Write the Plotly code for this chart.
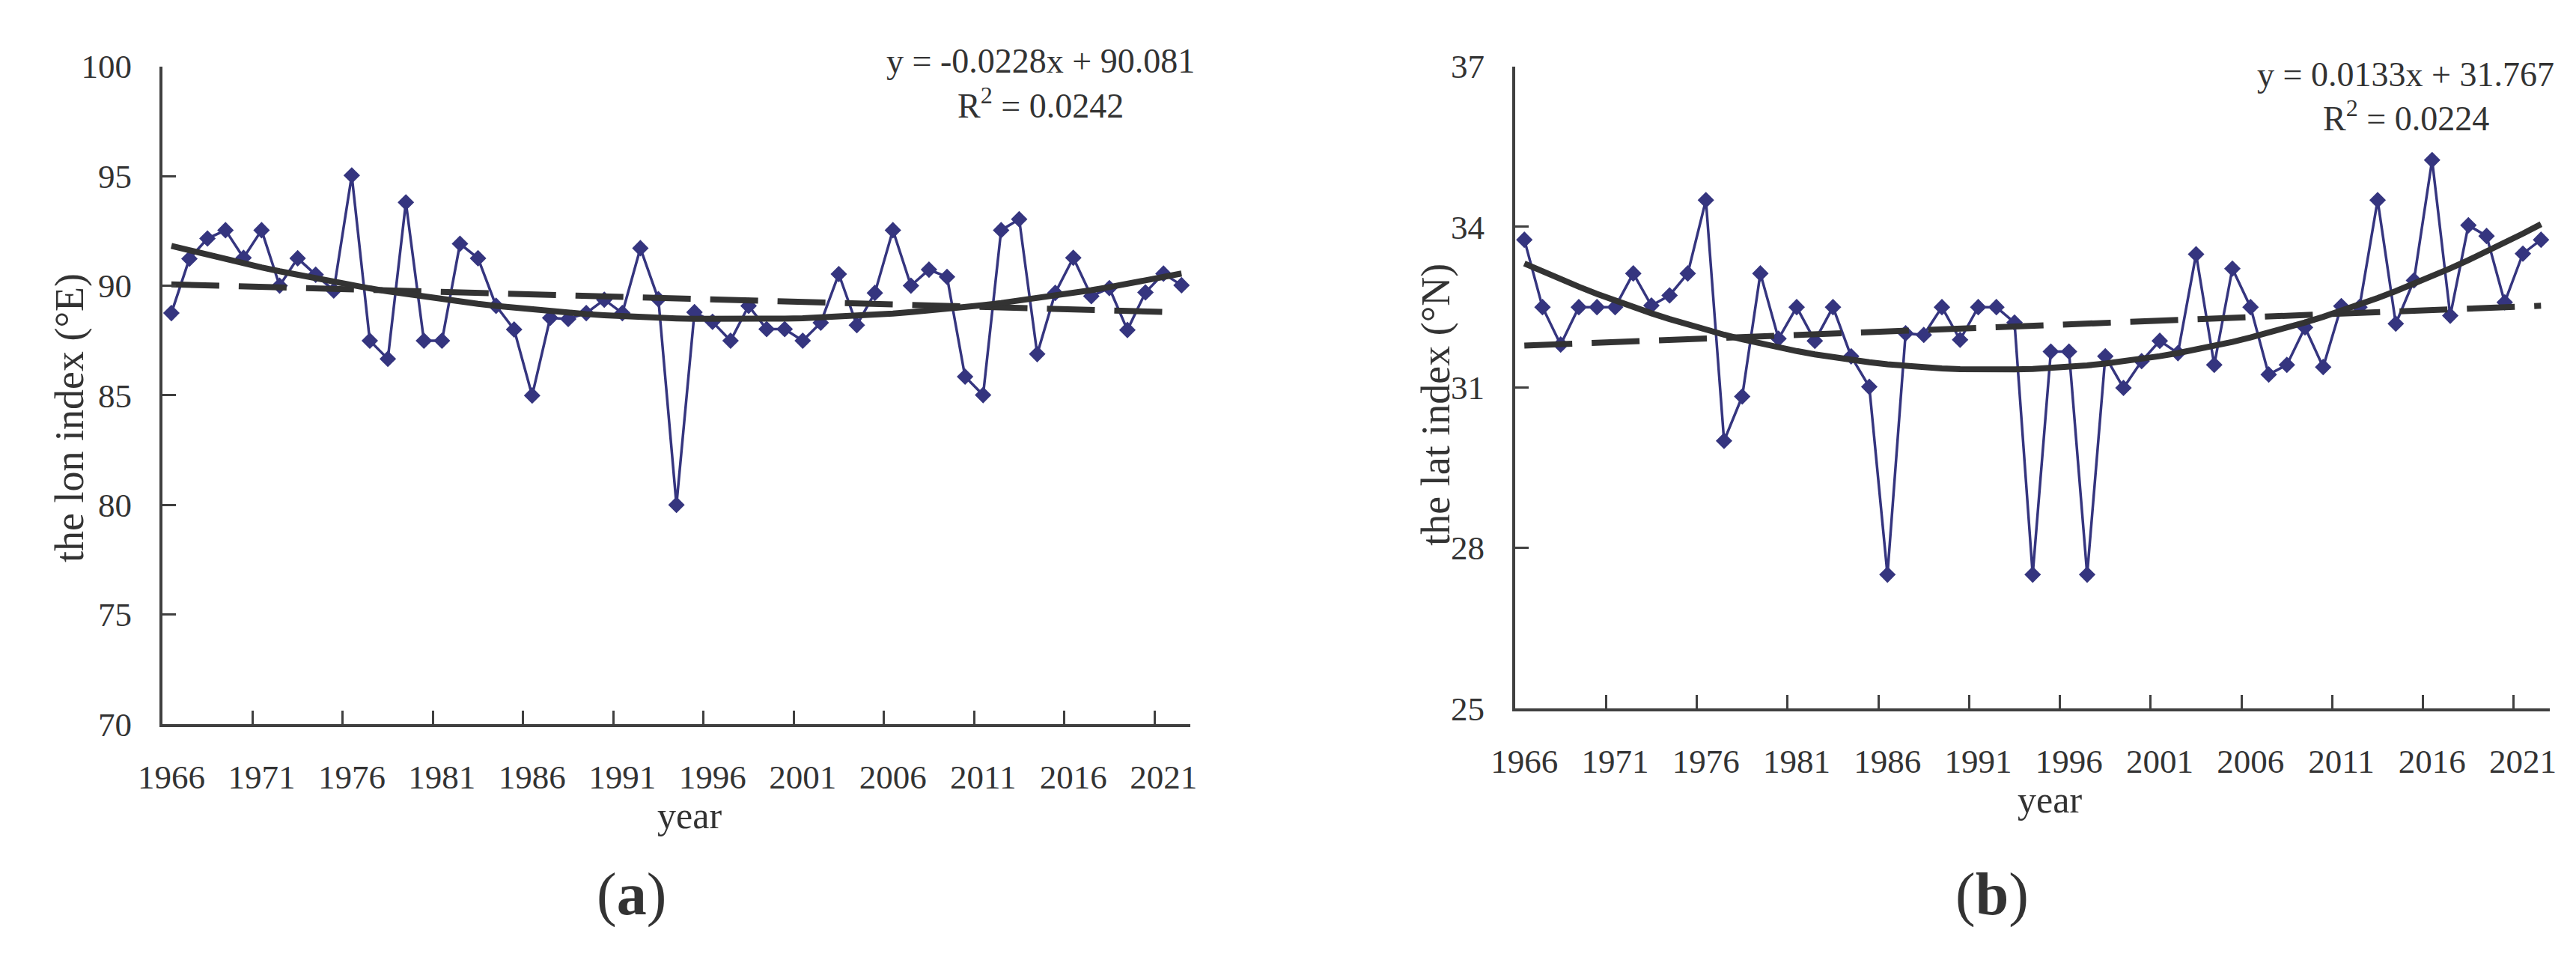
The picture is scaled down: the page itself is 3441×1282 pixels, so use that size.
import numpy as np
import plotly.graph_objects as go

# ---------------- data ----------------
years = list(range(1966, 2023))

lon_index = [88.75, 91.23, 92.15, 92.53, 91.27, 92.53, 90.00, 91.25, 90.50, 89.78,
             95.03, 87.49, 86.66, 93.80, 87.49, 87.49, 91.91, 91.25, 89.08, 88.00,
             84.99, 88.53, 88.48, 88.75, 89.36, 88.75, 91.71, 89.38, 80.00, 88.79,
             88.35, 87.49, 89.08, 88.02, 88.02, 87.49, 88.31, 90.53, 88.20, 89.67,
             92.53, 90.00, 90.73, 90.40, 85.85, 85.01, 92.53, 93.03, 86.88, 89.67,
             91.27, 89.52, 89.89, 87.98, 89.69, 90.55, 90.02]

lat_index = [33.76, 32.50, 31.80, 32.50, 32.50, 32.50, 33.13, 32.53, 32.72, 33.13,
             34.50, 30.00, 30.83, 33.13, 31.91, 32.50, 31.87, 32.50, 31.58, 31.01,
             27.50, 32.01, 31.98, 32.50, 31.89, 32.50, 32.50, 32.21, 27.50, 31.67,
             31.67, 27.50, 31.58, 30.99, 31.49, 31.87, 31.64, 33.49, 31.42, 33.22,
             32.50, 31.24, 31.42, 32.12, 31.38, 32.52, 32.50, 34.50, 32.19, 33.00,
             35.25, 32.34, 34.03, 33.83, 32.59, 33.50, 33.76]

lon_slope, lon_intercept, lon_r2 = -0.0228, 90.081, 0.0242
lat_slope, lat_intercept, lat_r2 = 0.0133, 31.767, 0.0224

tick_labels = [str(y) for y in range(1966, 2022, 5)]
lon_yticks = [70, 75, 80, 85, 90, 95, 100]
lat_yticks = [25, 28, 31, 34, 37]

# ---------------- derived ----------------
idx = np.arange(1, len(years) + 1)
lon_lin = lon_slope * idx + lon_intercept
lat_lin = lat_slope * idx + lat_intercept
lon_poly = np.polyval(np.polyfit(idx, lon_index, 2), idx)
lat_poly = np.polyval(np.polyfit(idx, lat_index, 2), idx)

W, H = 3441, 1282
def px(x):
    return x / W
def py(y):
    return 1 - y / H

DATA_COL = "#35357f"
TREND_COL = "#333333"
AXIS_COL = "#404040"
TXT_COL = "#333333"
FONT = "Liberation Serif"

fig = go.Figure()

for xa, ya, vals, lin, poly in [("x", "y", lon_index, lon_lin, lon_poly),
                                ("x2", "y2", lat_index, lat_lin, lat_poly)]:
    fig.add_trace(go.Scatter(x=years, y=vals, xaxis=xa, yaxis=ya, mode="lines+markers",
                             line=dict(color=DATA_COL, width=3.5),
                             marker=dict(symbol="diamond", size=17, color=DATA_COL),
                             cliponaxis=False))
    fig.add_trace(go.Scatter(x=years, y=lin, xaxis=xa, yaxis=ya, mode="lines",
                             line=dict(color=TREND_COL, width=8, dash="64px,26px")))
    fig.add_trace(go.Scatter(x=years, y=poly, xaxis=xa, yaxis=ya, mode="lines",
                             line=dict(color=TREND_COL, width=8)))

boundaries = [y + 0.5 for y in range(1970, 2021, 5)]
tickvals_x = list(range(1966, 2022, 5))

def xaxis_cfg(domain):
    return dict(domain=domain, range=[1965.5, 2022.5], showline=True, linecolor=AXIS_COL,
                linewidth=4, showgrid=False, zeroline=False,
                tickvals=tickvals_x, ticktext=tick_labels, ticks="",
                tickfont=dict(family=FONT, size=45, color=TXT_COL),
                ticklabelstandoff=28,
                minor=dict(tickvals=boundaries, ticks="inside", ticklen=18, tickwidth=3,
                           tickcolor=AXIS_COL, showgrid=False))

def yaxis_cfg(domain, rng, tv, anchor):
    return dict(domain=domain, range=rng, showline=True, linecolor=AXIS_COL, linewidth=4,
                showgrid=False, zeroline=False, tickvals=tv, ticks="inside", ticklen=18,
                tickwidth=3, tickcolor=AXIS_COL, anchor=anchor,
                tickfont=dict(family=FONT, size=45, color=TXT_COL),
                ticklabelstandoff=28)

fig.update_layout(
    width=W, height=H, margin=dict(l=0, r=0, t=0, b=0),
    paper_bgcolor="white", plot_bgcolor="white", showlegend=False,
    xaxis=dict(**xaxis_cfg([px(178), px(1568)]), anchor="y"),
    yaxis=yaxis_cfg([py(973), py(59)], [70, 100], lon_yticks, "x"),
    xaxis2=dict(**xaxis_cfg([px(2007), px(3406)]), anchor="y2"),
    yaxis2=yaxis_cfg([py(951), py(59)], [25, 37], lat_yticks, "x2"),
)

ann = []
def add(text, x, y, size, angle=0, xanchor="center"):
    ann.append(dict(text=text, x=px(x), y=py(y), xref="paper", yref="paper",
                    showarrow=False, xanchor=xanchor, yanchor="middle", textangle=angle,
                    font=dict(family=FONT, size=size, color=TXT_COL)))

add("the lon index (°E)", 52, 547, 54, angle=-90)
add("the lat index (°N)", 1900, 529, 54, angle=-90)
add("year", 891, 1100, 50)
add("year", 2730, 1078, 50)
add("(<b>a</b>)", 812, 1210, 80)
add("(<b>b</b>)", 2652, 1210, 80)
add(f"y = {lon_slope}x + {lon_intercept}", 1365, 52, 46)
add(f"R<sup>2</sup> = {lon_r2}", 1365, 110, 46)
add(f"y = {lat_slope}x + {lat_intercept}", 3211, 70, 46)
add(f"R<sup>2</sup> = {lat_r2}", 3211, 128, 46)
fig.update_layout(annotations=ann)

fig.write_html("out.html")
